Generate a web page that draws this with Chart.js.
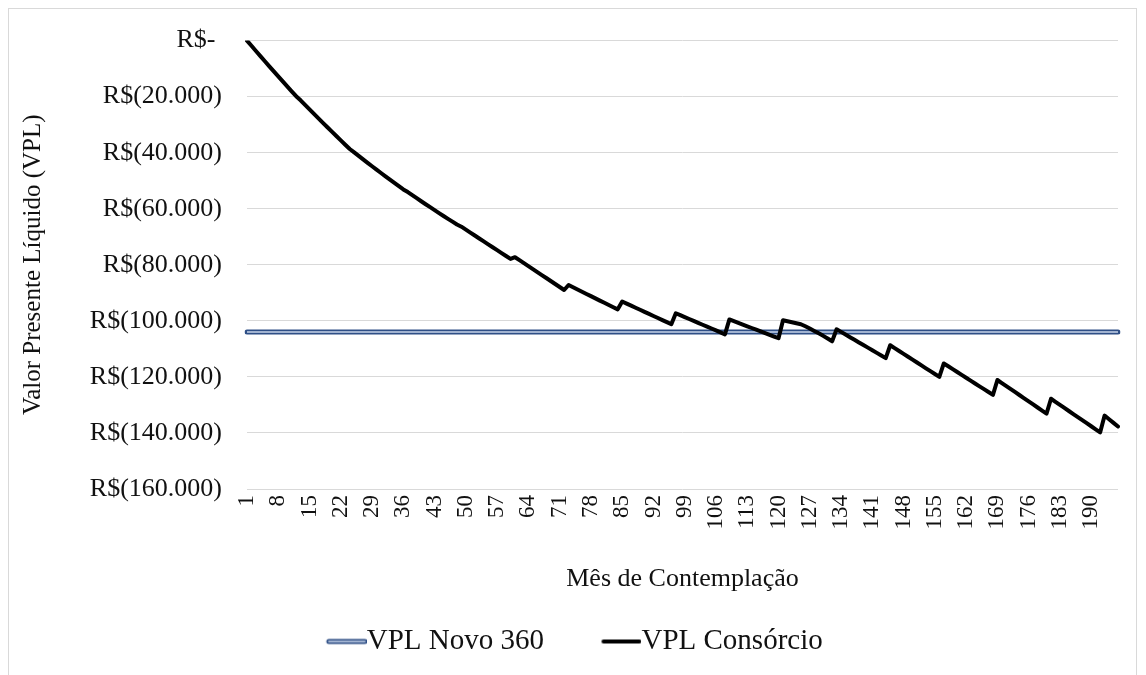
<!DOCTYPE html>
<html>
<head>
<meta charset="utf-8">
<script src="https://cdn.jsdelivr.net/npm/chart.js@4.4.1/dist/chart.umd.min.js"></script>
<style>
  html, body { margin: 0; padding: 0; background: #fff; }
  #wrap { position: relative; width: 1146px; height: 675px; overflow: hidden; }
  #frame { position: absolute; left: 8px; top: 8px; width: 1127px; height: 700px; border: 1px solid #d9d9d9; pointer-events: none; }
  canvas { position: absolute; left: 0; top: 0; }
</style>
</head>
<body>
<div id="wrap">
  <canvas id="chart" width="1146" height="675"></canvas>
  <div id="frame"></div>
</div>
<script>
// Mês de contemplação (categorias)
const months = [
  1, 2, 3, 4, 5, 6, 7, 8, 9, 10, 11, 12, 13, 14, 15, 16, 17, 18, 19, 20,
  21, 22, 23, 24, 25, 26, 27, 28, 29, 30, 31, 32, 33, 34, 35, 36, 37, 38, 39, 40,
  41, 42, 43, 44, 45, 46, 47, 48, 49, 50, 51, 52, 53, 54, 55, 56, 57, 58, 59, 60,
  61, 62, 63, 64, 65, 66, 67, 68, 69, 70, 71, 72, 73, 74, 75, 76, 77, 78, 79, 80,
  81, 82, 83, 84, 85, 86, 87, 88, 89, 90, 91, 92, 93, 94, 95, 96, 97, 98, 99, 100,
  101, 102, 103, 104, 105, 106, 107, 108, 109, 110, 111, 112, 113, 114, 115, 116, 117, 118, 119, 120,
  121, 122, 123, 124, 125, 126, 127, 128, 129, 130, 131, 132, 133, 134, 135, 136, 137, 138, 139, 140,
  141, 142, 143, 144, 145, 146, 147, 148, 149, 150, 151, 152, 153, 154, 155, 156, 157, 158, 159, 160,
  161, 162, 163, 164, 165, 166, 167, 168, 169, 170, 171, 172, 173, 174, 175, 176, 177, 178, 179, 180,
  181, 182, 183, 184, 185, 186, 187, 188, 189, 190, 191, 192, 193, 194, 195, 196
];

// rótulos visíveis do eixo X
const xTickLabels = [1, 8, 15, 22, 29, 36, 43, 50, 57, 64, 71, 78, 85, 92, 99, 106, 113, 120, 127, 134, 141, 148, 155, 162, 169, 176, 183, 190];

// VPL Consórcio, um valor por mês
const vplConsorcio = [
  0, -1860, -3710, -5550, -7380, -9200, -11000, -12790, -14570, -16340, -18090, -19830,
  -21300, -22930, -24550, -26160, -27760, -29350, -30930, -32500, -34060, -35610, -37150, -38680,
  -39900, -41150, -42390, -43620, -44840, -46050, -47250, -48440, -49620, -50790, -51950, -53100,
  -54050, -55150, -56240, -57320, -58390, -59450, -60500, -61540, -62570, -63590, -64600, -65600,
  -66400, -67450, -68500, -69550, -70600, -71650, -72700, -73740, -74780, -75820, -76860, -77900,
  -77300, -78360, -79420, -80480, -81540, -82600, -83660, -84720, -85790, -86860, -87930, -89000,
  -87200, -88000, -88800, -89600, -90400, -91190, -91980, -92770, -93560, -94340, -95120, -95900,
  -93100, -93840, -94580, -95320, -96060, -96800, -97530, -98260, -98990, -99720, -100460, -101200,
  -97300, -97980, -98660, -99340, -100020, -100700, -101380, -102060, -102740, -103420, -104110, -104800,
  -99500, -100110, -100720, -101330, -101940, -102550, -103160, -103770, -104380, -104990, -105600, -106200,
  -99800, -100150, -100500, -100850, -101200, -101950, -102750, -103600, -104450, -105350, -106300, -107300,
  -103000, -103940, -104880, -105820, -106760, -107700, -108630, -109560, -110490, -111420, -112360, -113300,
  -108700, -109730, -110760, -111790, -112820, -113850, -114880, -115910, -116940, -117960, -118980, -120000,
  -115200, -116220, -117240, -118260, -119280, -120300, -121320, -122340, -123360, -124380, -125390, -126400,
  -121100, -122190, -123280, -124370, -125460, -126550, -127640, -128730, -129820, -130910, -132000, -133100,
  -127800, -128890, -129980, -131070, -132160, -133250, -134340, -135430, -136520, -137610, -138700, -139800,
  -133800, -135100, -136400, -137700
];

// VPL Novo 360 (constante), primeiro e último mês
const novo360Months = [1, 196];
const novo360Values = [-104000, -104000];

// eixo Y
const yMin = -160000;
const yMax = 0;
const yStep = 20000;

const FONT = "'Liberation Serif', 'Times New Roman', serif";
const TEXT = "#111";
const BLUE_OUT = "#2f4f86";
const BLUE_IN = "#c8d5ea";

function moeda(v) {
  if (v === 0) return "R$- ";
  const s = String(Math.abs(v)).replace(/\B(?=(\d{3})+(?!\d))/g, ".");
  return v < 0 ? "R$(" + s + ")" : "R$ " + s + " ";
}

// símbolo da legenda: linha encostada no texto
function legendLine(outer, inner) {
  const c = document.createElement("canvas");
  c.width = 76;
  c.height = 10;
  const g = c.getContext("2d");
  g.lineCap = "round";
  g.strokeStyle = outer;
  g.lineWidth = inner ? 5 : 4;
  g.beginPath();
  g.moveTo(38, 5);
  g.lineTo(74, 5);
  g.stroke();
  if (inner) {
    g.strokeStyle = inner;
    g.lineWidth = 1.6;
    g.beginPath();
    g.moveTo(38, 5);
    g.lineTo(74, 5);
    g.stroke();
  }
  return c;
}

// rótulos do eixo X girados (leitura de baixo para cima)
const xLabelPlugin = {
  id: "xLabels",
  afterDraw(chart) {
    const sx = chart.scales.x;
    const ctx = chart.ctx;
    ctx.save();
    ctx.font = "23px " + FONT;
    ctx.fillStyle = TEXT;
    ctx.textAlign = "right";
    ctx.textBaseline = "middle";
    xTickLabels.forEach((lab) => {
      const px = sx.getPixelForValue(months.indexOf(lab));
      ctx.save();
      ctx.translate(px, sx.top + 6);
      ctx.rotate(-Math.PI / 2);
      ctx.fillText(String(lab), 0, 0);
      ctx.restore();
    });
    ctx.restore();
  },
};

const novo360Data = novo360Months.map((m, i) => ({ x: m, y: novo360Values[i] }));

new Chart(document.getElementById("chart"), {
  type: "line",
  data: {
    labels: months,
    datasets: [
      {
        label: "VPL Novo 360",
        data: novo360Data,
        borderColor: BLUE_OUT,
        borderWidth: 5,
        borderCapStyle: "round",
        pointRadius: 0,
        pointStyle: legendLine(BLUE_OUT, BLUE_IN),
        order: 3,
      },
      {
        label: "inner",
        data: novo360Data,
        borderColor: BLUE_IN,
        borderWidth: 1.6,
        pointRadius: 0,
        order: 2,
      },
      {
        label: "VPL Consórcio",
        data: vplConsorcio,
        borderColor: "#000",
        borderWidth: 4,
        borderJoinStyle: "round",
        borderCapStyle: "round",
        tension: 0,
        pointRadius: 0,
        pointStyle: legendLine("#000"),
        order: 1,
      },
    ],
  },
  options: {
    responsive: false,
    animation: false,
    devicePixelRatio: 1,
    layout: { padding: { left: 10, right: 28, top: 34, bottom: 9 } },
    scales: {
      x: {
        type: "category",
        offset: false,
        grid: { display: false },
        border: { display: false },
        ticks: { display: false },
        title: {
          display: true,
          text: "Mês de Contemplação",
          color: TEXT,
          font: { family: FONT, size: 26 },
          padding: { top: 0, bottom: -4 },
        },
        afterFit: (s) => { s.height = 102; },
      },
      y: {
        min: yMin,
        max: yMax,
        grid: { color: "#d9d9d9", lineWidth: 1, drawTicks: false },
        border: { display: false },
        ticks: {
          stepSize: yStep,
          padding: 25,
          color: TEXT,
          font: { family: FONT, size: 26 },
          callback: (v) => moeda(v),
        },
        title: {
          display: true,
          text: "Valor Presente Líquido (VPL)",
          color: TEXT,
          font: { family: FONT, size: 25 },
          padding: { top: 8, bottom: 0 },
        },
        afterFit: (s) => { s.width = 237; },
      },
    },
    plugins: {
      tooltip: { enabled: false },
      legend: {
        position: "bottom",
        labels: {
          usePointStyle: true,
          pointStyleWidth: 47,
          padding: 36,
          color: TEXT,
          font: { family: FONT, size: 29 },
          filter: (item) => item.datasetIndex !== 1,
          sort: (a, b) => a.datasetIndex - b.datasetIndex,
        },
      },
    },
  },
  plugins: [xLabelPlugin],
});
</script>
</body>
</html>
